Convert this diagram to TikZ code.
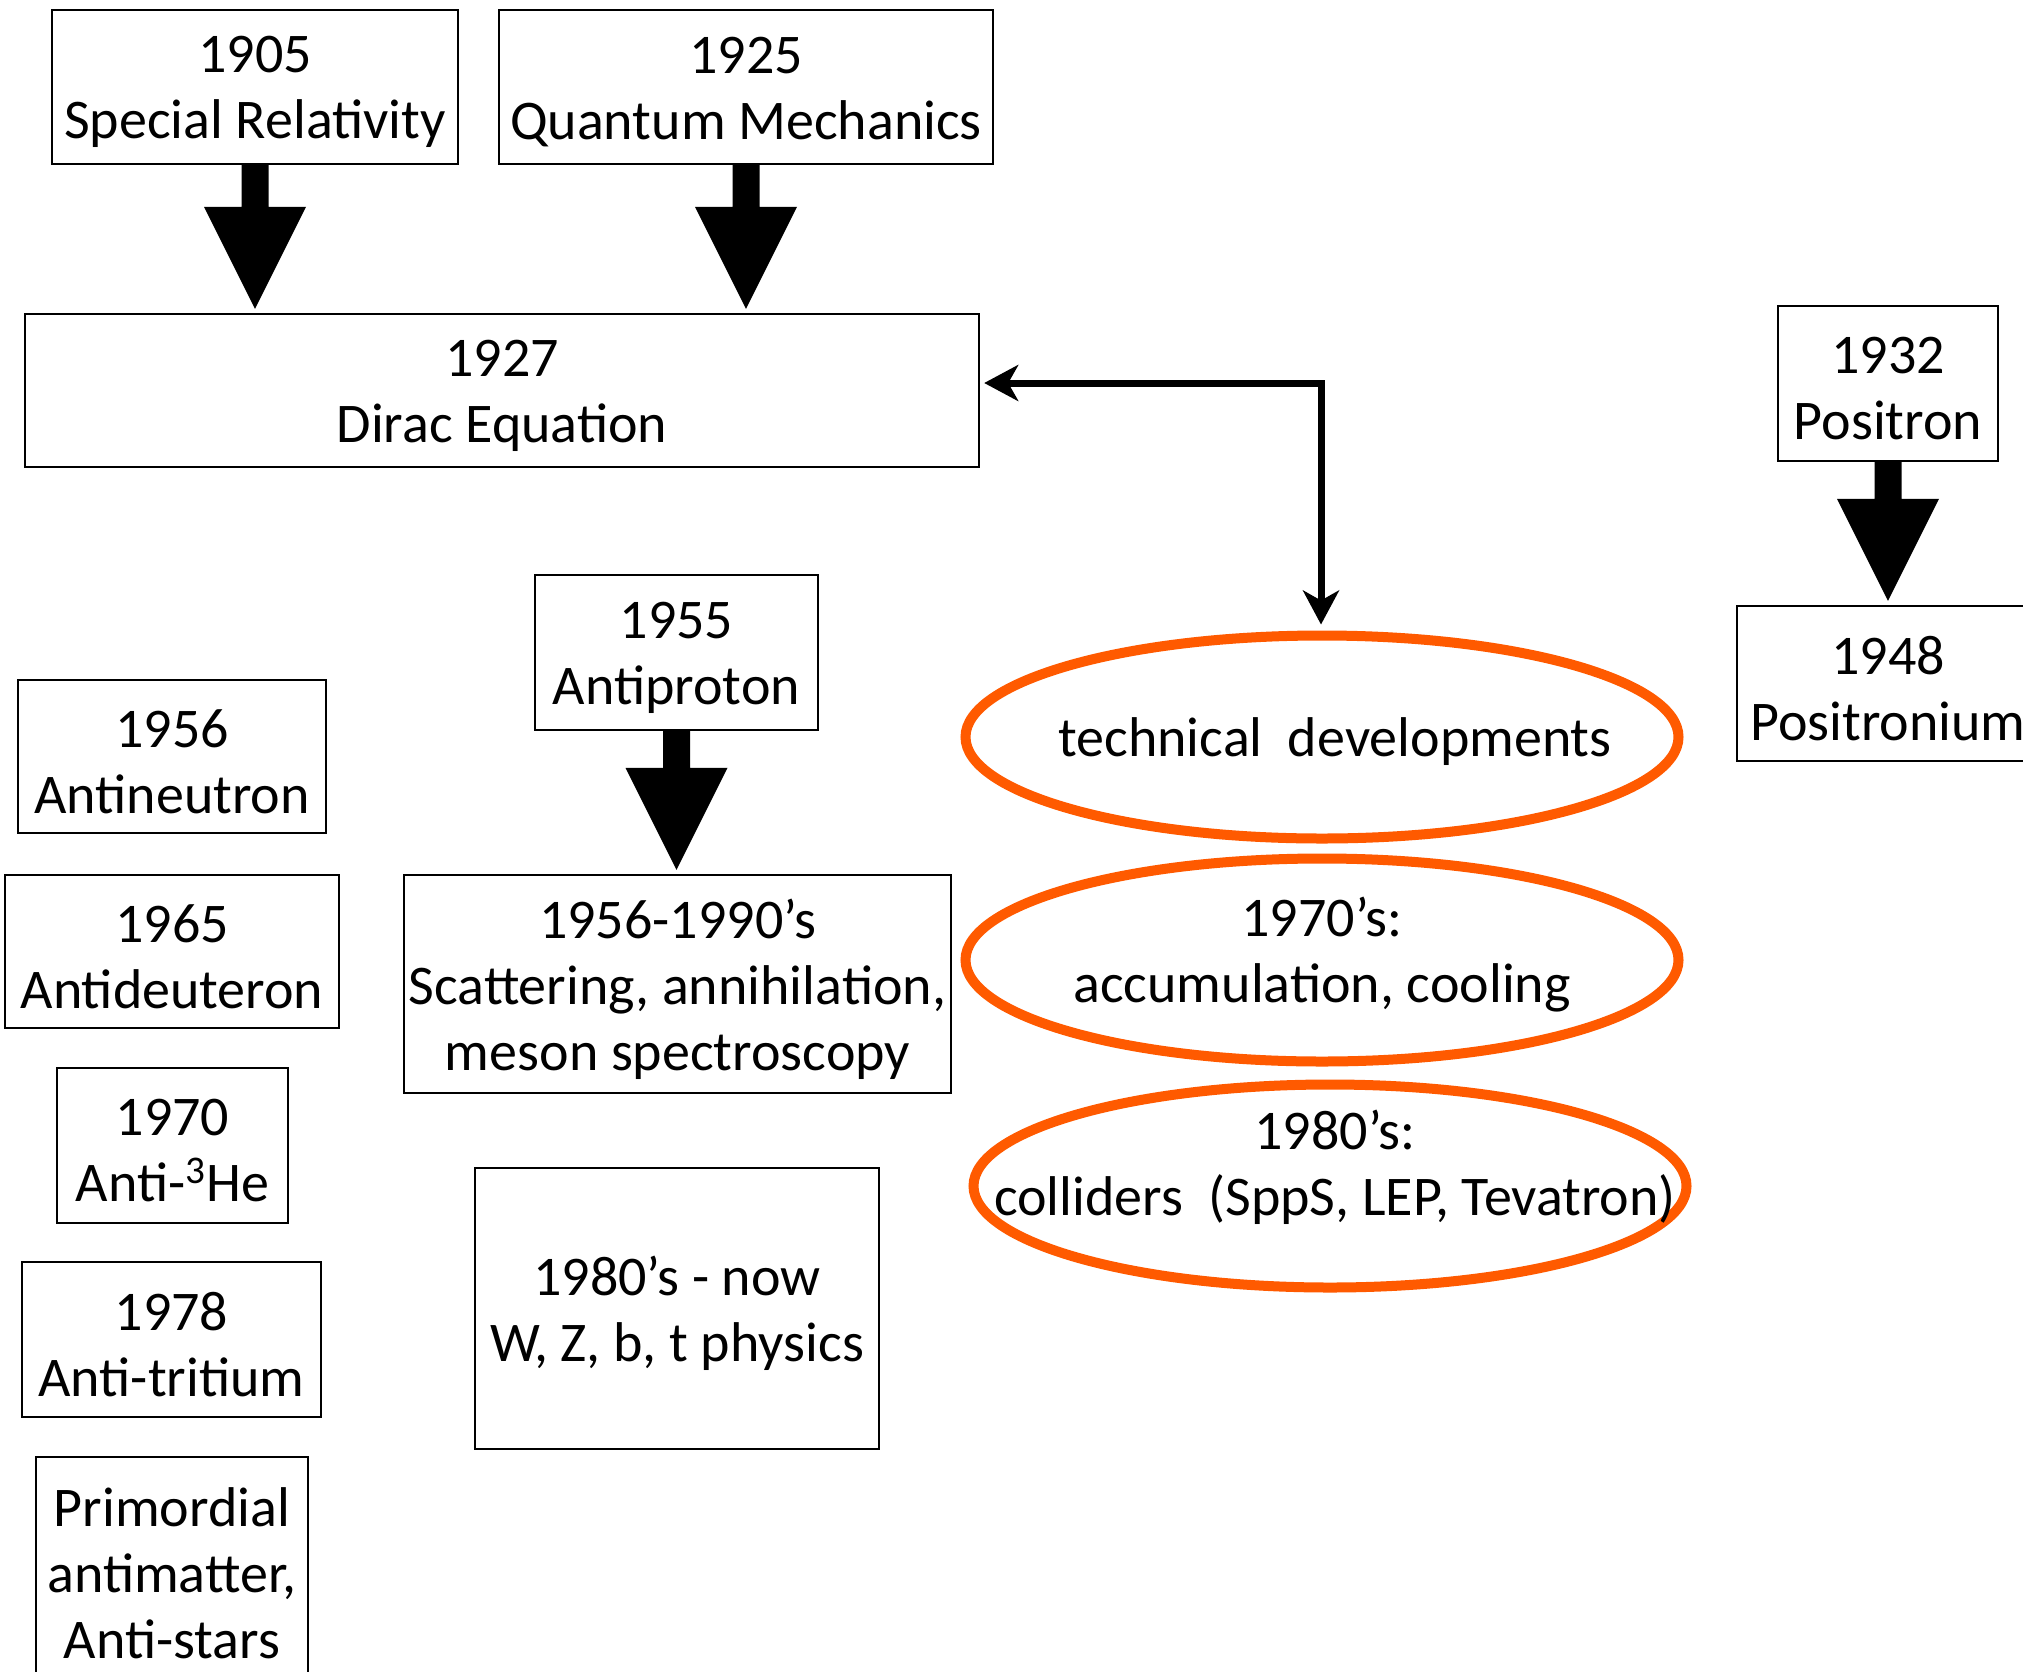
\documentclass[tikz,border=0pt]{standalone}
\usepackage{fontspec}
\setmainfont{Carlito}
\usetikzlibrary{calc,shapes.geometric,arrows.meta}
\definecolor{orng}{RGB}{255,90,0}
\tikzset{
  x=0.5pt, y=-0.5pt,
  txtfont/.style={font=\fontsize{28}{33}\selectfont},
  box/.style={draw, line width=1.2pt, fill=white, inner sep=0pt},
  boxtext/.style={align=center, inner sep=0pt, txtfont, yshift=-2.5pt},
  ell/.style={draw=orng, line width=5pt, ellipse, inner sep=0pt, minimum width=356.5pt, minimum height=101.5pt},
  lbl/.style={align=center, inner sep=0pt, txtfont},
  link/.style={line width=3.5pt, {Stealth[length=17pt,width=18pt,inset=5pt]}-{Stealth[length=17pt,width=18pt,inset=5pt]}}
}
\newcommand\mybox[6]{\node[box, minimum width={(#4-#2)*0.5pt}, minimum height={(#5-#3)*0.5pt}, label={[boxtext]center:{#6}}] (#1) at ({(#2+#4)/2},{(#3+#5)/2}) {};}
\newcommand\blockarr[2]{%
  \fill ($(#1.south)+(-13.5,0)$) -- ($(#1.south|-#2.north)+(-13.5,-106)$) -- ($(#1.south|-#2.north)+(-51,-106)$) -- ($(#1.south|-#2.north)+(0,-4)$) -- ($(#1.south|-#2.north)+(51,-106)$) -- ($(#1.south|-#2.north)+(13.5,-106)$) -- ($(#1.south)+(13.5,0)$) -- cycle;}
\begin{document}
\begin{tikzpicture}
\fill[white] (0,0) rectangle (2023,1671);
\useasboundingbox (0,0) rectangle (2023,1671);
\clip (0,0) rectangle (2023,1671);
\mybox{sr}{52}{10}{458}{164}{1905\\Special Relativity}
\mybox{qm}{499}{10}{993}{164}{1925\\Quantum Mechanics}
\mybox{dirac}{25}{314}{979}{467}{1927\\Dirac Equation}
\mybox{pos}{1778}{306}{1998}{461}{1932\\Positron}
\mybox{psn}{1737}{606}{2039}{761}{1948\\Positronium}
\mybox{apr}{535}{575}{818}{730}{1955\\Antiproton}
\mybox{aneu}{18}{680}{326}{833}{1956\\Antineutron}
\mybox{adeu}{5}{875}{339}{1028}{1965\\Antideuteron}
\mybox{ahe}{57}{1068}{288}{1223}{1970\\Anti-\textsuperscript{3}He}
\mybox{atri}{22}{1262}{321}{1417}{1978\\Anti-tritium}
\mybox{prim}{36}{1457}{308}{1680}{Primordial\\antimatter,\\Anti-stars}
\mybox{scat}{404}{875}{951}{1093}{1956-1990’s\\Scattering, annihilation,\\meson spectroscopy}
\mybox{wz}{475}{1168}{879}{1449}{1980’s - now\\W, Z, b, t physics}
\blockarr{sr}{dirac}
\blockarr{qm}{dirac}
\blockarr{pos}{psn}
\blockarr{apr}{scat}
\node[ell] (e1) at (1322,737) {};
\node[ell] (e2) at (1322,960) {};
\node[ell] (e3) at (1330,1186) {};
\node[lbl] (t1) at ($(e1.center)+(13,5)$) {technical~ developments};
\node[lbl] (t2) at ($(e2.center)+(0,-5)$) {1970’s:\\accumulation, cooling};
\node[lbl] (t3) at ($(e3.center)+(5,-19)$) {1980’s:\\colliders~ (SppS, LEP, Tevatron)};
\coordinate (corner) at (1321,383);
\draw[link, shorten <=2pt, shorten >=3pt] (dirac.east |- corner) -- (corner) -- (corner |- e1.north);
\end{tikzpicture}
\end{document}
